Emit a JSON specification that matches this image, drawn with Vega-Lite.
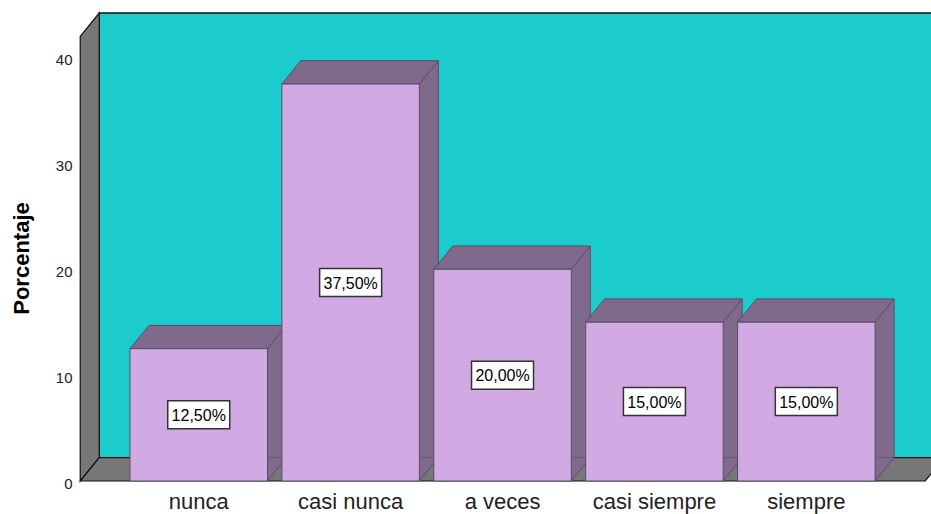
{
  "$schema": "https://vega.github.io/schema/vega-lite/v6.json",
  "width": 851,
  "height": 468,
  "autosize": {"type": "none"},
  "padding": {"left": 80, "top": 13, "right": 0, "bottom": 33},
  "background": "white",
  "config": {"view": {"stroke": null}},
  "data": {"values": [
    {"categoria": "nunca", "porcentaje": 12.5, "etiqueta": "12,50%"},
    {"categoria": "casi nunca", "porcentaje": 37.5, "etiqueta": "37,50%"},
    {"categoria": "a veces", "porcentaje": 20, "etiqueta": "20,00%"},
    {"categoria": "casi siempre", "porcentaje": 15, "etiqueta": "15,00%"},
    {"categoria": "siempre", "porcentaje": 15, "etiqueta": "15,00%"}
  ]},
  "resolve": {"scale": {"y": "independent"}},
  "layer": [
    {
      "encoding": {
        "x": {
          "field": "categoria", "type": "nominal",
          "scale": {"domain": ["nunca", "casi nunca", "a veces", "casi siempre", "siempre"], "paddingInner": 0.0948, "paddingOuter": 0.3486, "align": 0.472},
          "axis": {"title": null, "domain": false, "ticks": false, "grid": false, "labelAngle": 0, "labelFont": "Liberation Sans", "labelFontSize": 22, "labelColor": "#222222", "labelPadding": 10, "labelBaseline": "top"}
        },
        "y": {
          "field": "porcentaje", "type": "quantitative",
          "scale": {"domain": [0, 44.21], "nice": false, "zero": true},
          "axis": {"title": "Porcentaje", "values": [0, 10, 20, 30, 40], "domain": false, "ticks": false, "grid": false, "labelFont": "Liberation Sans", "labelFontSize": 15, "labelColor": "#222222", "labelPadding": 8, "labelOffset": 2, "titleFont": "Liberation Sans", "titleFontSize": 22, "titleFontWeight": "bold", "titleColor": "#000000", "titleX": -52, "titleY": 245, "titleBaseline": "alphabetic", "titleAlign": "center", "titleAngle": -90}
        }
      },
      "layer": [
        {
          "transform": [{"filter": "datum.categoria === 'nunca'"}],
          "mark": {"type": "point", "shape": "M-99.5,-468L740,-468L740,-23.3L-99.5,-23.3Z", "size": 4, "filled": true, "fill": "#1ccccc", "stroke": "#111111", "strokeWidth": 1.5, "opacity": 1},
          "encoding": {"y": {"datum": 0}}
        },
        {
          "transform": [{"filter": "datum.categoria === 'nunca'"}],
          "mark": {"type": "point", "shape": "M-118.5,-444.7L-99.5,-468L-99.5,-23.3L-118.5,0Z", "size": 4, "filled": true, "fill": "#777777", "stroke": "#111111", "strokeWidth": 1.2, "opacity": 1},
          "encoding": {"y": {"datum": 0}}
        },
        {
          "transform": [{"filter": "datum.categoria === 'nunca'"}],
          "mark": {"type": "point", "shape": "M-118.5,0L-99.5,-23.3L740,-23.3L740,-16.6L726.5,0Z", "size": 4, "filled": true, "fill": "#777777", "stroke": "#111111", "strokeWidth": 1.2, "opacity": 1},
          "encoding": {"y": {"datum": 0}}
        },
        {
          "mark": {"type": "bar", "fill": "#7f6a8c", "xOffset": 19, "yOffset": -23.3, "y2Offset": -23.3},
          "encoding": {"y2": {"datum": 0}}
        },
        {
          "mark": {"type": "point", "shape": "M68.75,0L87.75,-23.3L68.75,-23.3Z", "size": 4, "filled": true, "fill": "#7f6a8c", "strokeWidth": 0, "opacity": 1},
          "encoding": {"y": {"datum": 0}}
        },
        {
          "mark": {"type": "point", "shape": "M68.75,0L87.75,-23.3", "size": 4, "filled": false, "stroke": "#5b4a68", "strokeWidth": 1, "opacity": 1},
          "encoding": {"y": {"datum": 0}}
        },
        {
          "mark": {"type": "rule", "stroke": "#5b4a68", "strokeWidth": 1, "xOffset": 87.75, "yOffset": -23.3, "y2Offset": -23.3},
          "encoding": {"y2": {"datum": 0}}
        },
        {
          "mark": {"type": "point", "shape": "M-68.75,0L-49.75,-23.3L87.75,-23.3L68.75,0Z", "size": 4, "filled": true, "fill": "#7f6a8c", "stroke": "#5b4a68", "strokeWidth": 1, "opacity": 1}
        },
        {
          "mark": {"type": "bar", "fill": "#d1aae4", "stroke": "#5b4a68", "strokeWidth": 1},
          "encoding": {"y2": {"datum": 0}}
        }
      ]
    },
    {
      "encoding": {
        "x": {"field": "categoria", "type": "nominal"},
        "y": {"field": "porcentaje", "type": "quantitative", "scale": {"domain": [0, 88.42], "nice": false, "zero": true}, "axis": null}
      },
      "layer": [
        {
          "mark": {"type": "point", "shape": "M-31,-14H31V14H-31Z", "size": 4, "filled": true, "fill": "white", "stroke": "#333333", "strokeWidth": 1.5, "opacity": 1}
        },
        {
          "mark": {"type": "text", "font": "Liberation Sans", "fontSize": 16, "color": "#000000", "baseline": "middle", "align": "center", "dy": 1},
          "encoding": {"text": {"field": "etiqueta"}}
        }
      ]
    }
  ]
}
